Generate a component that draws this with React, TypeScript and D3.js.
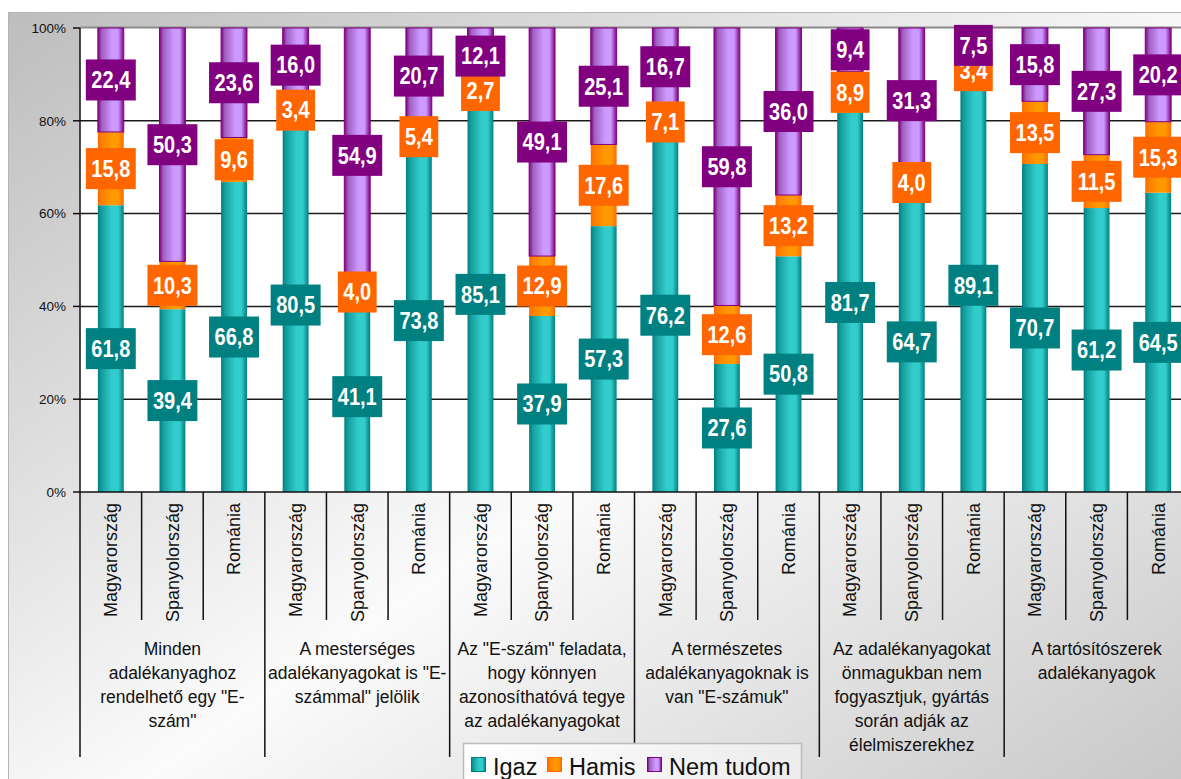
import React from "react";
import * as d3 from "d3";

const countries = ["Magyarország", "Spanyolország", "Románia"];
const groups: string[][] = [
  ["Minden", "adalékanyaghoz", "rendelhető egy \"E-", "szám\""],
  ["A mesterséges", "adalékanyagokat is \"E-", "számmal\" jelölik"],
  ["Az \"E-szám\" feladata,", "hogy könnyen", "azonosíthatóvá tegye", "az adalékanyagokat"],
  ["A természetes", "adalékanyagoknak is", "van \"E-számuk\""],
  ["Az adalékanyagokat", "önmagukban nem", "fogyasztjuk, gyártás", "során adják az", "élelmiszerekhez"],
  ["A tartósítószerek", "adalékanyagok"],
];
const igaz = [61.8, 39.4, 66.8, 80.5, 41.1, 73.8, 85.1, 37.9, 57.3, 76.2, 27.6, 50.8, 81.7, 64.7, 89.1, 70.7, 61.2, 64.5];
const hamis = [15.8, 10.3, 9.6, 3.4, 4.0, 5.4, 2.7, 12.9, 17.6, 7.1, 12.6, 13.2, 8.9, 4.0, 3.4, 13.5, 11.5, 15.3];
const nemTudom = [22.4, 50.3, 23.6, 16.0, 54.9, 20.7, 12.1, 49.1, 25.1, 16.7, 59.8, 36.0, 9.4, 31.3, 7.5, 15.8, 27.3, 20.2];
const seriesNames = ["Igaz", "Hamis", "Nem tudom"];
const yTicks = [0, 0.2, 0.4, 0.6, 0.8, 1];

const FONT = "'Liberation Sans', Arial, sans-serif";

const seriesStyle = [
  { id: "gTeal", dark: "#007f7f", mid: "#169f9f", light: "#33cccc", box: "#008080" },
  { id: "gOrange", dark: "#ff6a00", mid: "#ff7f00", light: "#ff9900", box: "#ff6600" },
  { id: "gPurple", dark: "#800080", mid: "#a060c0", light: "#cc99ff", box: "#800080" },
];

export default function App() {
  const W = 1181, H = 779;
  const left = 80, right = 1189, top = 28, bottom = 492;
  const rows = igaz.map((v, i) => ({ i, a: v, b: hamis[i], c: nemTudom[i] }));
  const stack = d3.stack<any>().keys(["a", "b", "c"]).offset(d3.stackOffsetExpand);
  const stacked = stack(rows);
  const x = d3.scaleBand<number>().domain(rows.map((r) => r.i)).range([left, right]).paddingInner(0).paddingOuter(0);
  const y = d3.scaleLinear().domain([0, 1]).range([bottom, top]);
  const bw = x.bandwidth() * 0.42;
  const raw = [igaz, hamis, nemTudom];
  const fmt = (v: number) => v.toFixed(1).replace(".", ",");
  const sx = 0.87;
  const digitW = 23 * sx;
  const textW = (s: string) => {
    let w = 0;
    for (const ch of s) w += ch === "," ? 0.278 * digitW : 0.556 * digitW;
    return w;
  };

  return (
    <svg width={W} height={H} style={{ position: "absolute", left: 0, top: 0 }} fontFamily={FONT}>
      <defs>
        <linearGradient id="bg" x1="0" y1="0" x2="1" y2="1">
          <stop offset="0" stopColor="#bdbdbd" />
          <stop offset="0.5" stopColor="#fbfbfb" />
          <stop offset="1" stopColor="#bdbdbd" />
        </linearGradient>
        <linearGradient id="legBg" x1="0" y1="0" x2="1" y2="0">
          <stop offset="0" stopColor="#ffffff" />
          <stop offset="1" stopColor="#ececec" />
        </linearGradient>
        {seriesStyle.map((s) => (
          <linearGradient key={s.id} id={s.id} x1="0" y1="0" x2="1" y2="0">
            <stop offset="0" stopColor={s.dark} />
            <stop offset="0.15" stopColor={s.mid} />
            <stop offset="0.55" stopColor={s.light} />
            <stop offset="0.78" stopColor={s.light} />
            <stop offset="1" stopColor={s.dark} />
          </linearGradient>
        ))}
      </defs>
      <rect x={0} y={0} width={W} height={H} fill="#ffffff" />
      <rect x={8.5} y={12.5} width={1260} height={860} fill="url(#bg)" stroke="#b4b4b4" strokeWidth={1} />
      <rect x={left} y={top} width={right - left} height={bottom - top} fill="#ffffff" />
      <line x1={left} x2={right} y1={top - 0.5} y2={top - 0.5} stroke="#8a8a8a" strokeWidth={2} />

      {/* gridlines */}
      {yTicks.filter((t) => t > 0 && t < 1).map((t) => (
        <line key={t} x1={left} x2={right} y1={y(t)} y2={y(t)} stroke="#1a1a1a" strokeWidth={1.5} />
      ))}

      {/* bars */}
      {stacked.map((layer, si) => (
        <g key={si}>
          {layer.map((d, i) => {
            const cx = (x(i) as number) + x.bandwidth() / 2;
            return (
              <rect
                key={i}
                x={cx - bw / 2}
                width={bw}
                y={y(d[1])}
                height={y(d[0]) - y(d[1])}
                fill={`url(#${seriesStyle[si].id})`}
                stroke={si === 2 ? "#800080" : "none"}
                strokeWidth={1}
              />
            );
          })}
        </g>
      ))}

      {/* axes */}
      <line x1={left} x2={right} y1={bottom} y2={bottom} stroke="#111" strokeWidth={1.5} />
      <line x1={left} x2={left} y1={top} y2={757} stroke="#111" strokeWidth={1.5} />
      {yTicks.map((t) => (
        <g key={t}>
          <line x1={73} x2={left} y1={y(t)} y2={y(t)} stroke="#111" strokeWidth={1.5} />
          <text x={66} y={y(t)} dy="0.35em" textAnchor="end" fontSize={13.5} fill="#111">
            {d3.format(".0%")(t)}
          </text>
        </g>
      ))}
      {rows.map((r) => {
        const xb = (x(r.i) as number) + x.bandwidth();
        if (r.i === rows.length - 1) return null;
        const major = (r.i + 1) % 3 === 0;
        return <line key={r.i} x1={xb} x2={xb} y1={bottom} y2={major ? 757 : 620} stroke="#111" strokeWidth={1.5} />;
      })}
      {rows.map((r) => {
        const cx = (x(r.i) as number) + x.bandwidth() / 2;
        return (
          <text key={r.i} transform={`translate(${cx},503) rotate(-90)`} textAnchor="end" dy="0.35em" fontSize={18} fill="#111">
            {countries[r.i % 3]}
          </text>
        );
      })}
      {groups.map((lines, g) => {
        const cx = (x(g * 3) as number) + x.bandwidth() * 1.5;
        return (
          <text key={g} textAnchor="middle" fontSize={17.5} fill="#111">
            {lines.map((l, li) => (
              <tspan key={li} x={cx} y={655 + li * 24}>{l}</tspan>
            ))}
          </text>
        );
      })}

      {/* data labels */}
      {stacked.map((layer, si) => (
        <g key={si}>
          {layer.map((d, i) => {
            const cx = (x(i) as number) + x.bandwidth() / 2;
            const cy = y((d[0] + d[1]) / 2);
            const s = fmt(raw[si][i]);
            const tw = textW(s);
            const bwid = tw + 11;
            const bh = 41;
            return (
              <g key={i}>
                <rect x={cx - bwid / 2} y={cy - bh / 2} width={bwid} height={bh} fill={seriesStyle[si].box} />
                <g transform={`translate(${cx},${cy}) scale(${sx},1)`}>
                  <text x={0} y={0} dy="0.36em" textAnchor="middle" fontSize={23} fontWeight="bold" fill="#ffffff">
                    {s}
                  </text>
                </g>
              </g>
            );
          })}
        </g>
      ))}

      {/* legend */}
      <rect x={463.5} y={743.5} width={338} height={60} fill="url(#legBg)" stroke="#bcbcbc" strokeWidth={1.5} />
      {seriesNames.map((n, si) => {
        const xs = [471, 547, 647][si];
        return (
          <g key={n}>
            <rect x={xs + 0.5} y={757.5} width={14} height={14} fill={`url(#${seriesStyle[si].id})`} stroke={seriesStyle[si].dark} strokeWidth={1} />
            <text x={xs + 22} y={775} fontSize={23.5} fill="#111">{n}</text>
          </g>
        );
      })}
    </svg>
  );
}
